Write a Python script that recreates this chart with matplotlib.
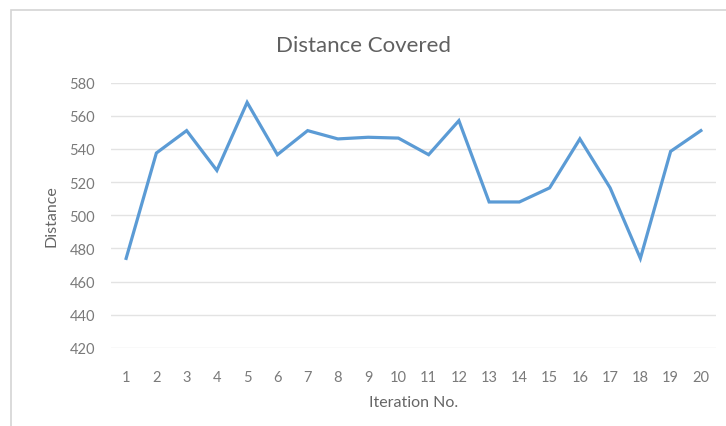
import numpy as np
import matplotlib
matplotlib.use("Agg")
import matplotlib.pyplot as plt
from matplotlib.patches import Rectangle

# distance covered per iteration
iterations = list(range(1, 21))
distance = [474, 537.5, 551, 527, 568, 536.5, 551, 546, 547, 546.5,
            536.5, 557, 508, 508, 516.5, 546, 516.5, 474, 538.5, 551]
y_ticks = [420, 440, 460, 480, 500, 520, 540, 560, 580]

plt.rcParams['font.family'] = ['Lato', 'DejaVu Sans']

fig = plt.figure(figsize=(7.26, 4.27), dpi=100)
fig.patch.set_facecolor('white')

# light chart-area border
fig.patches.append(Rectangle((11 / 726, -0.1), 1.2, 1 - 11 / 427 + 0.1,
                             transform=fig.transFigure, fill=False,
                             edgecolor='#d4d4d4', lw=1.2))

ax = fig.add_axes([111 / 726, 1 - 349 / 427, (716 - 111) / 726, (349 - 83.5) / 427])

ax.plot(iterations, distance, color='#5b9bd5', lw=2.3, solid_joinstyle='miter')

ax.set_xlim(0.5, 20.5)
ax.set_ylim(420, 580)
ax.set_xticks(iterations)
ax.set_yticks(y_ticks)
ax.yaxis.grid(True, color='#e3e3e3', lw=1)
ax.set_axisbelow(True)
for s in ax.spines.values():
    s.set_visible(False)
ax.tick_params(axis='both', length=0, colors='#7a7a7a', labelsize=10.5)
ax.tick_params(axis='x', pad=16)
ax.tick_params(axis='y', pad=11.5)

ax.set_xlabel('Iteration No.', fontsize=11.5, color='#666666', labelpad=8)
ax.set_ylabel('Distance', fontsize=11.5, color='#666666', labelpad=8)

fig.text(0.5, 1 - 46 / 427, 'Distance Covered', ha='center', va='center',
         fontsize=16, color='#606060')

fig.savefig('out.png', dpi=100)
